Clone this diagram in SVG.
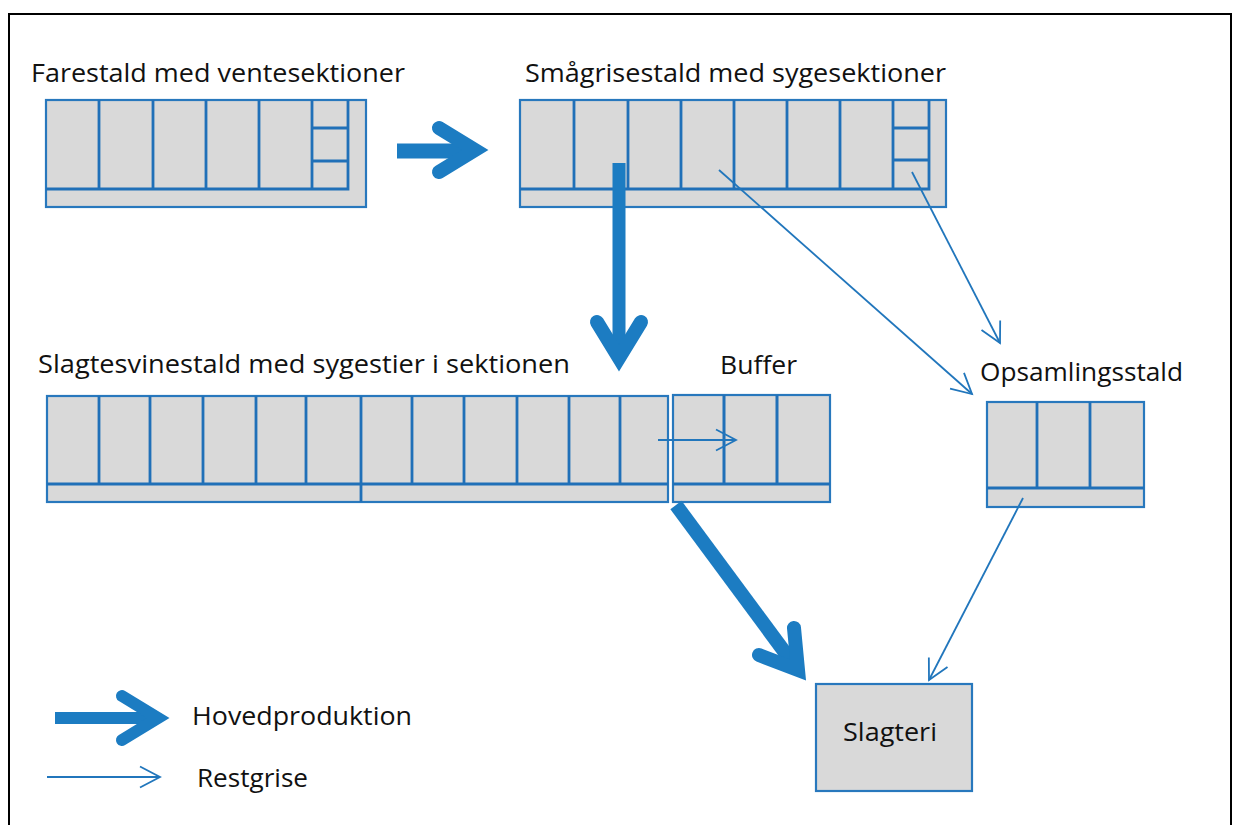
<svg xmlns="http://www.w3.org/2000/svg" width="1236" height="825" viewBox="0 0 1236 825">
<defs>
<style>
.bg{fill:#ffffff}
.frame{fill:none;stroke:#000;stroke-width:2}
.box{fill:#d9d9d9;stroke:#2878bd;stroke-width:2.2}
.in{fill:none;stroke:#2070b8;stroke-width:2.8}
.lbl{font-family:"Open Sans","Noto Sans",sans-serif;font-size:26px;fill:#111}
.big{fill:none;stroke:#1c7cc2;stroke-width:14;stroke-linecap:round;stroke-linejoin:miter;stroke-miterlimit:6}
.shaft{fill:none;stroke:#1c7cc2;stroke-width:14;stroke-linecap:butt}
.conn{fill:none;stroke:#2176bc;stroke-width:1.8}
</style>
<marker id="open" markerUnits="userSpaceOnUse" viewBox="-25 -15 30 30" markerWidth="30" markerHeight="30" refX="0" refY="0" orient="auto" overflow="visible">
<path d="M-20,-10.5 L0,0 L-20,10.5" fill="none" stroke="#2176bc" stroke-width="1.8"/>
</marker>
</defs>
<rect class="bg" x="0" y="0" width="1236" height="825"/>
<path class="frame" d="M9,830 V14 H1231 V830"/>

<g id="farestald">
<text class="lbl" x="31" y="82" textLength="374" lengthAdjust="spacingAndGlyphs">Farestald med ventesektioner</text>
<rect class="box" x="46" y="100" width="320" height="107"/>
<path class="in" d="M46,189 H348 V100 M99,100 V189 M153,100 V189 M206,100 V189 M259,100 V189 M312,100 V189 M312,128 H348 M312,161 H348"/>
</g>

<g id="smaagrisestald">
<text class="lbl" x="525" y="82" textLength="421" lengthAdjust="spacingAndGlyphs">Smågrisestald med sygesektioner</text>
<rect class="box" x="520" y="100" width="426" height="107"/>
<path class="in" d="M520,189 H929 V100 M574,100 V189 M628,100 V189 M681,100 V189 M734,100 V189 M787,100 V189 M840,100 V189 M893,100 V189 M893,128 H929 M893,160 H929"/>
</g>

<g id="slagtesvinestald">
<text class="lbl" x="38" y="373" textLength="532" lengthAdjust="spacingAndGlyphs">Slagtesvinestald med sygestier i sektionen</text>
<rect class="box" x="47" y="396" width="621" height="106"/>
<path class="in" d="M47,484 H668 M99,396 V484 M150,396 V484 M203,396 V484 M256,396 V484 M306,396 V484 M361,396 V502 M412,396 V484 M464,396 V484 M517,396 V484 M569,396 V484 M620,396 V484"/>
</g>

<g id="buffer">
<text class="lbl" x="720" y="374" textLength="77" lengthAdjust="spacingAndGlyphs">Buffer</text>
<rect class="box" x="673" y="395" width="157" height="107"/>
<path class="in" d="M673,484 H830 M724,395 V484 M777,395 V484" style="stroke-width:3"/>
</g>

<g id="opsamlingsstald">
<text class="lbl" x="980" y="381" textLength="203" lengthAdjust="spacingAndGlyphs">Opsamlingsstald</text>
<rect class="box" x="987" y="402" width="157" height="105"/>
<path class="in" d="M987,488 H1144 M1037,402 V488 M1090,402 V488"/>
</g>

<g id="slagteri">
<rect class="box" x="816" y="684" width="156" height="107"/>
<text class="lbl" x="843" y="741" textLength="94" lengthAdjust="spacingAndGlyphs">Slagteri</text>
</g>

<g id="connectors">
<path class="shaft" d="M397,151 H470" style="stroke-width:15"/>
<path class="big" d="M439,128 L475,150 L439,172"/>
<path class="shaft" d="M619,163 V350" style="stroke-width:13"/>
<path class="big" d="M597,322 L619,358 L641,322"/>
<path class="shaft" d="M676,505 L795,666"/>
<path class="big" d="M794,628 L798,670 L759,655"/>
<path class="conn" d="M658,440 H736" marker-end="url(#open)"/>
<path class="conn" d="M719,170 L972,394" marker-end="url(#open)"/>
<path class="conn" d="M912,172 L1000,343" marker-end="url(#open)"/>
<path class="conn" d="M1023,498 L929,680" marker-end="url(#open)"/>
</g>

<g id="legend">
<path class="shaft" d="M55,718 H152" style="stroke-width:12"/>
<path class="big" d="M122,696 L158,718 L122,740" style="stroke-width:12"/>
<text class="lbl" x="192" y="725" textLength="220" lengthAdjust="spacingAndGlyphs">Hovedproduktion</text>
<path class="conn" d="M47,777 H160" marker-end="url(#open)"/>
<text class="lbl" x="197" y="787" textLength="111" lengthAdjust="spacingAndGlyphs">Restgrise</text>
</g>
</svg>
